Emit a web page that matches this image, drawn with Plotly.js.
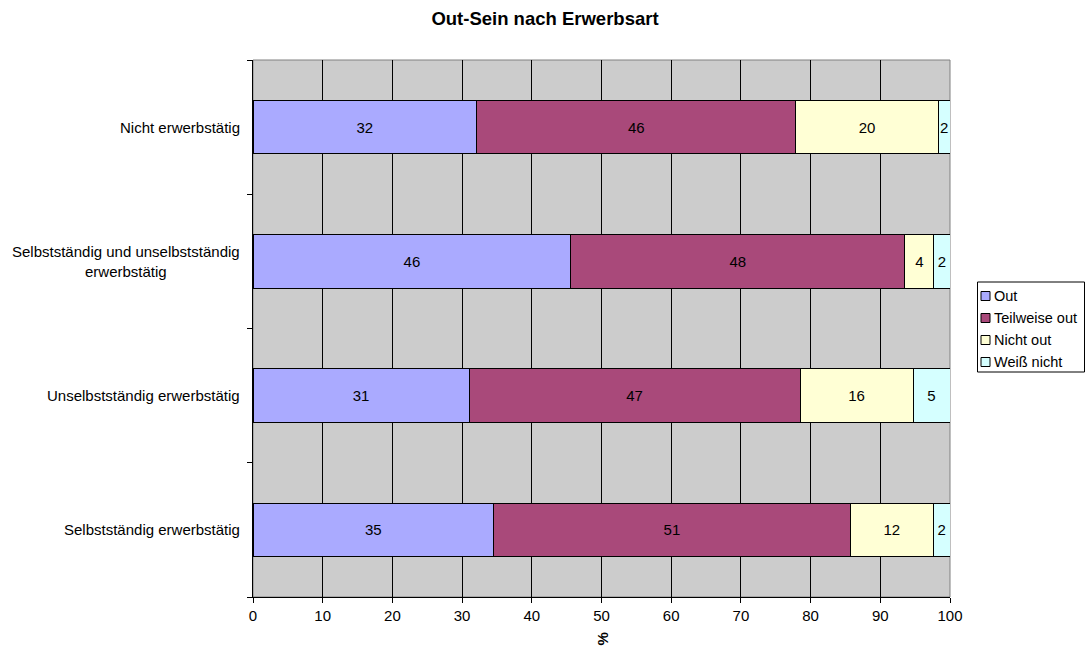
<!DOCTYPE html>
<html>
<head>
<meta charset="utf-8">
<script src="https://cdn.plot.ly/plotly-3.0.1.min.js"></script>
<style>html,body{margin:0;padding:0;background:#fff;}#chart{width:1085px;height:646px;}</style>
</head>
<body>
<div id="chart"></div>
<script>
// Categories, bottom to top
const categories = [
  "Selbstständig erwerbstätig",
  "Unselbstständig erwerbstätig",
  "Selbstständig und unselbstständig erwerbstätig",
  "Nicht erwerbstätig"
];
const categoryLabels = [
  "Selbstständig erwerbstätig",
  "Unselbstständig erwerbstätig",
  "Selbstständig und unselbstständig<br>erwerbstätig",
  "Nicht erwerbstätig"
];
const seriesNames = ["Out", "Teilweise out", "Nicht out", "Weiß nicht"];
// Bar lengths (percent)
const outValues        = [34.5, 31.0, 45.6, 32.1];
const teilweiseValues  = [51.2, 47.5, 47.9, 45.8];
const nichtOutValues   = [11.9, 16.2, 4.2, 20.4];
const weissNichtValues = [2.4, 5.3, 2.3, 1.7];
// Printed labels
const outLabels        = ["35", "31", "46", "32"];
const teilweiseLabels  = ["51", "47", "48", "46"];
const nichtOutLabels   = ["12", "16", "4", "20"];
const weissNichtLabels = ["2", "5", "2", "2"];
const xTicks = [0, 10, 20, 30, 40, 50, 60, 70, 80, 90, 100];
const colors = ["#AAAAFF", "#A9497A", "#FFFFD5", "#D5FFFF"];

const values = [outValues, teilweiseValues, nichtOutValues, weissNichtValues];
const labels = [outLabels, teilweiseLabels, nichtOutLabels, weissNichtLabels];
const FONT = "Liberation Sans, Arial, sans-serif";
const FS = 15;

const W = 1085, H = 646;
const M = {l: 253, r: 135, t: 60, b: 49};
const PW = W - M.l - M.r, PH = H - M.t - M.b;
const px2x = px => (px - M.l) / PW;
const py2y = py => (H - M.b - py) / PH;

const traces = seriesNames.map((name, i) => ({
  type: "bar",
  orientation: "h",
  name: name,
  y: categories,
  x: values[i],
  text: labels[i],
  textposition: "inside",
  insidetextanchor: "middle",
  textangle: 0,
  textfont: {family: FONT, size: FS, color: "#000"},
  marker: {color: colors[i], line: {color: "#000", width: 1}},
  hoverinfo: "x+name",
  showlegend: false
}));

const annotations = categories.map((c, i) => ({
  xref: "paper", yref: "y", x: 0, y: c,
  xanchor: "right", yanchor: "middle", xshift: -11,
  text: categoryLabels[i], showarrow: false, align: "center",
  font: {family: FONT, size: FS, color: "#000"}
}));
annotations.push({
  xref: "paper", yref: "paper", x: 0.5, y: 0, yshift: -42,
  xanchor: "center", yanchor: "middle",
  text: "<b>%</b>", textangle: -90, showarrow: false,
  font: {family: FONT, size: FS, color: "#000"}
});

const shapes = [{
  type: "rect", xref: "paper", yref: "paper", x0: 0, x1: 1, y0: 0, y1: 1,
  line: {color: "#808080", width: 1}, fillcolor: "rgba(0,0,0,0)", layer: "below"
}];

// Legend (box, swatches, names)
const legTop = 282, legBottom = 372, legLeft = 977, legRight = 1085, legStep = 22, legFirst = 296;
shapes.push({
  type: "rect", xref: "paper", yref: "paper",
  x0: px2x(legLeft + 0.5), x1: px2x(legRight - 0.5), y0: py2y(legBottom), y1: py2y(legTop),
  line: {color: "#000", width: 1}, fillcolor: "#fff", layer: "above"
});
seriesNames.forEach((name, i) => {
  const cy = legFirst + i * legStep;
  shapes.push({
    type: "rect", xref: "paper", yref: "paper",
    x0: px2x(981), x1: px2x(990), y0: py2y(cy + 4.5), y1: py2y(cy - 4.5),
    line: {color: "#000", width: 1}, fillcolor: colors[i], layer: "above"
  });
  annotations.push({
    xref: "paper", yref: "paper", x: px2x(992), y: py2y(cy),
    xanchor: "left", yanchor: "middle", text: name, showarrow: false,
    font: {family: FONT, size: 14.5, color: "#000"}
  });
});

const layout = {
  width: W, height: H,
  margin: {l: M.l, r: M.r, t: M.t, b: M.b, autoexpand: false},
  paper_bgcolor: "#fff",
  plot_bgcolor: "#CCCCCC",
  barmode: "stack",
  bargap: 0.6,
  font: {family: FONT, size: FS, color: "#000"},
  uniformtext: {mode: "show", minsize: FS},
  title: {
    text: "<b>Out-Sein nach Erwerbsart</b>",
    font: {family: FONT, size: 18.5, color: "#000"},
    x: 545 / W, xref: "container", xanchor: "center",
    y: 1 - 19 / H, yref: "container", yanchor: "middle"
  },
  xaxis: {
    range: [0, 100],
    tickvals: xTicks,
    ticktext: xTicks.map(String),
    ticks: "outside", ticklen: 5, tickcolor: "#000",
    showgrid: true, gridcolor: "#000", gridwidth: 1,
    zeroline: false,
    showline: true, linecolor: "#000", linewidth: 1,
    tickfont: {family: FONT, size: FS, color: "#000"},
    fixedrange: true
  },
  yaxis: {
    type: "category",
    categoryorder: "array",
    categoryarray: categories,
    showticklabels: false,
    ticks: "outside", tickson: "boundaries", ticklen: 5, tickcolor: "#000",
    showgrid: false, zeroline: false,
    showline: true, linecolor: "#000", linewidth: 1,
    fixedrange: true
  },
  shapes: shapes,
  annotations: annotations,
  showlegend: false
};

Plotly.newPlot("chart", traces, layout, {displayModeBar: false, staticPlot: true});
</script>
</body>
</html>
